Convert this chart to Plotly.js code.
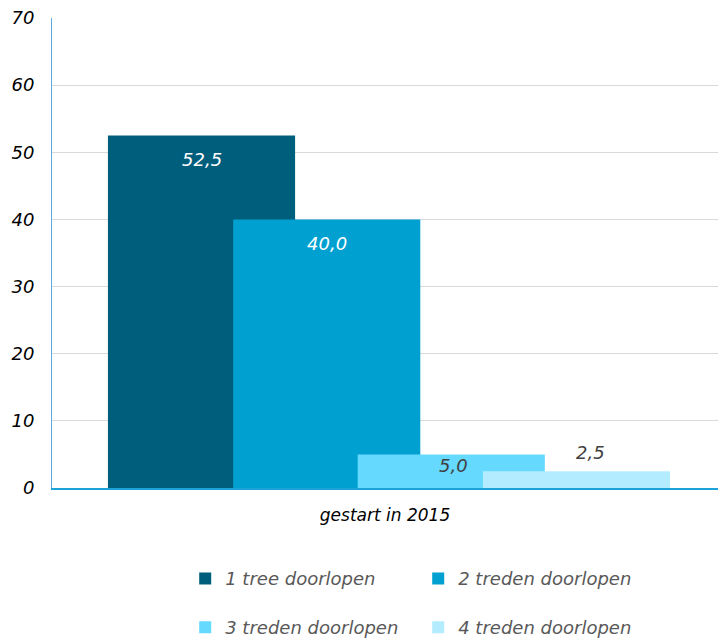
<!DOCTYPE html>
<html>
<head>
<meta charset="utf-8">
<script src="https://cdn.plot.ly/plotly-3.0.1.min.js"></script>
<style>html,body{margin:0;padding:0;background:#fff;}#chart{width:718px;height:641px;}</style>
</head>
<body>
<div id="chart"></div>
<script>
const categories = ["gestart in 2015"];
const seriesNames = ["1 tree doorlopen", "2 treden doorlopen", "3 treden doorlopen", "4 treden doorlopen"];
const seriesValues = [[52.5], [40.0], [5.0], [2.5]];
const seriesColors = ["#005E7D", "#00A0D0", "#66D9FF", "#B3ECFF"];
const yTicks = [0, 10, 20, 30, 40, 50, 60, 70];

const font = "DejaVu Sans, Verdana, sans-serif";
const offsets = [-0.416, -0.228, -0.041, 0.147];
const barWidth = 0.281;
const labelShiftY = [-24, -24, -11, 19];
const labelShiftX = [0, 0, 2, 14];
const labelCols = ["#ffffff", "#ffffff", "#404040", "#404040"];
const legends = ["legend", "legend", "legend2", "legend2"];

const traces = seriesNames.map((name, i) => ({
  type: "bar",
  name: name,
  x: categories,
  y: seriesValues[i],
  offset: offsets[i],
  width: barWidth,
  marker: {color: seriesColors[i], line: {width: 0}},
  legend: legends[i],
  hoverinfo: "skip"
}));

const fmt = v => v.toFixed(1).replace(".", ",");
const annotations = seriesValues.map((vals, i) => ({
  xref: "x", yref: "y",
  x: offsets[i] + barWidth / 2,
  y: vals[0],
  text: fmt(vals[0]),
  showarrow: false,
  xanchor: "center", yanchor: "middle",
  xshift: labelShiftX[i], yshift: labelShiftY[i],
  font: {family: font, size: 18, color: labelCols[i], style: "italic"}
}));

const legendCommon = {
  orientation: "h", xanchor: "left", yanchor: "middle",
  entrywidth: 188, entrywidthmode: "pixels",
  font: {family: font, size: 18, color: "#595959", style: "italic"},
  itemwidth: 30, traceorder: "normal", borderwidth: 0
};

const layout = {
  width: 718, height: 641,
  margin: {l: 52, r: 0, t: 18, b: 153, autoexpand: false},
  paper_bgcolor: "#fff", plot_bgcolor: "#fff",
  separators: ",.",
  barmode: "overlay",
  showlegend: true,
  font: {family: font, color: "#000"},
  annotations: annotations,
  xaxis: {
    type: "category",
    range: [-0.5, 0.5],
    showgrid: false,
    showline: true, linecolor: "#1CA4D8", linewidth: 1.5,
    ticks: "",
    tickfont: {family: font, size: 17, color: "#000", style: "italic"},
    ticklabelstandoff: 11,
    zeroline: false
  },
  yaxis: {
    range: [0, 70],
    tickvals: yTicks,
    ticktext: yTicks.map(String),
    showgrid: true, gridcolor: "#D9D9D9", gridwidth: 1,
    showline: true, linecolor: "#5BA9E0", linewidth: 1,
    zeroline: false,
    ticks: "",
    ticklabelstandoff: 13,
    tickfont: {family: font, size: 18, color: "#000", style: "italic"}
  },
  legend: Object.assign({x: 0.2, y: -0.193}, legendCommon),
  legend2: Object.assign({x: 0.2, y: -0.297}, legendCommon)
};

Plotly.newPlot("chart", traces, layout, {displayModeBar: false, staticPlot: true});
</script>
</body>
</html>
